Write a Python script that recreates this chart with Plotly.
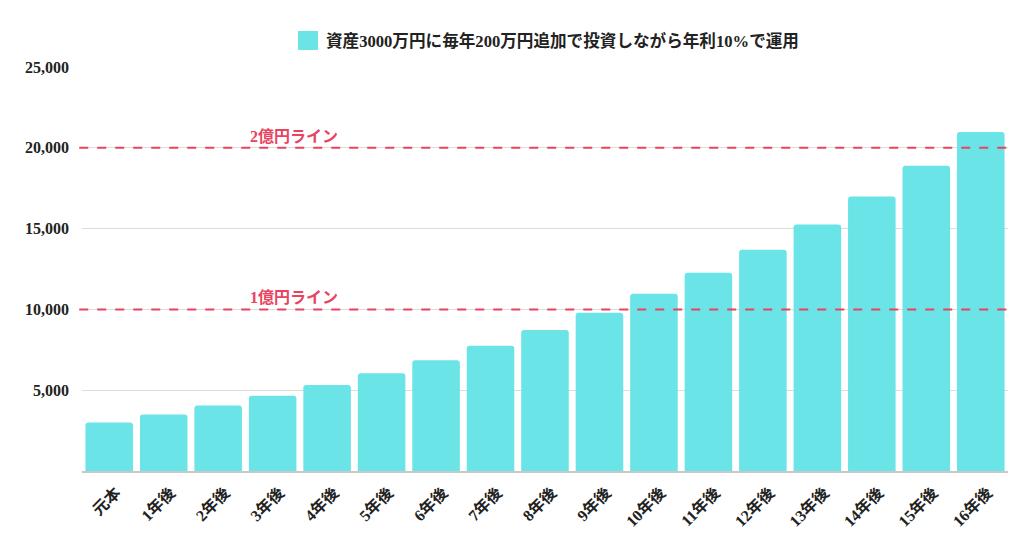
import plotly.graph_objects as go

categories = ["元本", "1年後", "2年後", "3年後", "4年後", "5年後", "6年後", "7年後", "8年後",
              "9年後", "10年後", "11年後", "12年後", "13年後", "14年後", "15年後", "16年後"]
values = [3000, 3500, 4050, 4655, 5321, 6053, 6858, 7744, 8718,
          9790, 10969, 12266, 13692, 15261, 16988, 18886, 20975]
series_name = "資産3000万円に毎年200万円追加で投資しながら年利10%で運用"
line_values = [10000, 20000]
line_labels = ["1億円ライン", "2億円ライン"]
y_ticks = [5000, 10000, 15000, 20000, 25000]

FONT = "Liberation Serif, Noto Sans CJK JP, serif"
RED = "#e8435f"
BAR = "#6ae4e7"

W, H = 1016, 530
L, R, T, B = 74, 16, 59, 67
pw = W - L - R
ph = H - T - B

def px(xpix):
    return (xpix - 8 - L) / pw

def py(ypix):
    return 1 + (T - (ypix - 8)) / ph

fig = go.Figure()
fig.add_trace(go.Bar(x=categories, y=values, name=series_name,
                     marker=dict(color=BAR, cornerradius=3, line=dict(width=0)),
                     showlegend=False))

for v, lab in zip(line_values, line_labels):
    fig.add_shape(type="line", xref="paper", yref="y", x0=-0.003, x1=1, y0=v, y1=v,
                  line=dict(color=RED, width=2, dash="dash"), layer="above")
    fig.add_annotation(xref="x", yref="y", x=3.39, y=v, text=lab, showarrow=False,
                       yanchor="bottom", yshift=1,
                       font=dict(family=FONT, size=16, color=RED, weight="bold"))

# legend (swatch + label)
fig.add_shape(type="rect", xref="paper", yref="paper",
              x0=px(298), x1=px(318), y0=py(50), y1=py(31),
              line=dict(width=0), fillcolor=BAR)
fig.add_annotation(xref="paper", yref="paper", x=px(324), y=py(41),
                   xanchor="left", yanchor="middle", text=series_name, showarrow=False,
                   font=dict(family=FONT, size=16.6, color="#222", weight="bold"))

fig.update_layout(
    width=W, height=H,
    margin=dict(l=L, r=R, t=T, b=B),
    paper_bgcolor="white", plot_bgcolor="white",
    bargap=0.127,
    font=dict(family=FONT, size=14, color="#222222"),
    showlegend=False,
    xaxis=dict(tickangle=-45, tickfont=dict(family=FONT, size=16, color="#222", weight="bold"),
               showline=True, linecolor="#c8c8c8", linewidth=2, ticks="", showgrid=False,
               automargin=False, ticklabelstandoff=4, ticklabelshift=7),
    yaxis=dict(range=[0, 25000], tickvals=y_ticks, tickformat=",",
               tickfont=dict(family=FONT, size=16, color="#222", weight="bold"),
               showgrid=True, gridcolor="#dcdcdc", gridwidth=1, zeroline=False,
               ticks="", ticklabelstandoff=12, automargin=False),
)

fig.write_html("out.html")
